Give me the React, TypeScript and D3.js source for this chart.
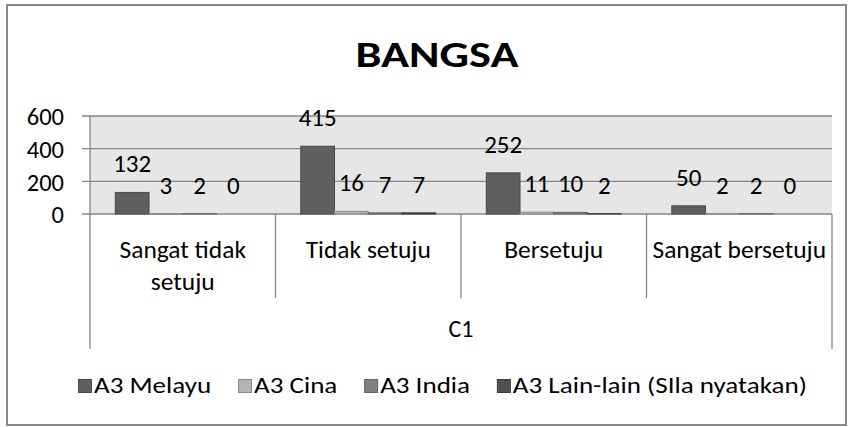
import React, { useEffect, useRef } from "react";
import * as d3 from "d3";

const title = "BANGSA";
const categories = ["Sangat tidak setuju", "Tidak setuju", "Bersetuju", "Sangat bersetuju"];
const groupLabel = "C1";
const seriesNames = ["A3 Melayu", "A3 Cina", "A3 India", "A3 Lain-lain (SIla nyatakan)"];
const melayu = [132, 415, 252, 50];
const cina = [3, 16, 11, 2];
const india = [2, 7, 10, 2];
const lainLain = [0, 7, 2, 0];
const yTicks = [0, 200, 400, 600];

const seriesValues = [melayu, cina, india, lainLain];
const fills = ["#5f5f5f", "#b3b3b3", "#808080", "#4f4f4f"];
const strokes = ["#4a4a4a", "#8a8a8a", "#666666", "#3c3c3c"];
const FONT = "Carlito, Lato, 'Open Sans', sans-serif";

export default function App() {
  const ref = useRef<SVGSVGElement>(null);
  useEffect(() => {
    const svg = d3.select(ref.current);
    svg.selectAll("*").remove();
    const W = 850, H = 427;
    const left = 90, right = 832, top = 116, bottom = 214;
    const grid = "#868686";

    svg.append("rect").attr("x", 0).attr("y", 0).attr("width", W).attr("height", H).attr("fill", "#fff");
    svg.append("rect").attr("x", 7).attr("y", 5).attr("width", 839).attr("height", 420)
      .attr("fill", "none").attr("stroke", "#8a8a8a").attr("stroke-width", 2);

    svg.append("text").attr("x", 437).attr("y", 67).attr("text-anchor", "middle")
      .attr("font-family", FONT).attr("font-weight", "bold").attr("font-size", 37)
      .attr("textLength", 163).attr("lengthAdjust", "spacingAndGlyphs").text(title);

    const y = d3.scaleLinear().domain([0, 600]).range([bottom, top]);
    const x0 = d3.scaleBand<string>().domain(categories).range([left, right]).padding(0);
    const catW = x0.bandwidth();
    const barW = catW / 5.5;
    const x1 = d3.scaleBand<number>().domain(d3.range(seriesNames.length))
      .range([0.75 * barW, 0.75 * barW + 4 * barW]).padding(0);

    svg.append("rect").attr("x", left).attr("y", top).attr("width", right - left).attr("height", bottom - top)
      .attr("fill", "#e6e6e6");

    yTicks.forEach((t) => {
      svg.append("line").attr("x1", left - 8).attr("x2", right).attr("y1", y(t)).attr("y2", y(t))
        .attr("stroke", grid).attr("stroke-width", 1.3);
      svg.append("text").attr("x", 64).attr("y", y(t)).attr("dy", "0.38em").attr("text-anchor", "end")
        .attr("font-family", FONT).attr("font-size", 24.5).attr("fill", "#000").text(String(t));
    });
    svg.append("line").attr("x1", left).attr("x2", left).attr("y1", top).attr("y2", 349)
      .attr("stroke", grid).attr("stroke-width", 1.3);
    svg.append("line").attr("x1", right).attr("x2", right).attr("y1", bottom).attr("y2", 349)
      .attr("stroke", grid).attr("stroke-width", 1.3);
    categories.slice(1).forEach((c) => {
      svg.append("line").attr("x1", x0(c)!).attr("x2", x0(c)!).attr("y1", bottom).attr("y2", 298)
        .attr("stroke", grid).attr("stroke-width", 1.3);
    });

    seriesValues.forEach((vals, si) => {
      vals.forEach((v, ci) => {
        const bx = x0(categories[ci])! + x1(si)!;
        svg.append("rect").attr("x", bx).attr("y", y(v)).attr("width", barW)
          .attr("height", Math.max(0, y(0) - y(v)))
          .attr("fill", fills[si]).attr("stroke", strokes[si]).attr("stroke-width", 1);
        svg.append("text").attr("x", bx + barW / 2).attr("y", y(v) - 20).attr("text-anchor", "middle")
          .attr("font-family", FONT).attr("font-size", 25).attr("fill", "#000").text(String(v));
      });
    });

    categories.forEach((c) => {
      const cx = x0(c)! + catW / 2;
      const t = svg.append("text").attr("x", cx).attr("y", 258).attr("text-anchor", "middle")
        .attr("font-family", FONT).attr("font-size", 25.5).attr("fill", "#000").text(c);
      const len = (t.node() as SVGTextElement).getComputedTextLength();
      if (len > catW + 10) {
        const words = c.split(" ");
        const last = words.pop()!;
        t.text(null);
        t.append("tspan").attr("x", cx).attr("y", 258).text(words.join(" "));
        t.append("tspan").attr("x", cx).attr("y", 290).text(last);
      }
    });

    svg.append("text").attr("x", (left + right) / 2).attr("y", 337).attr("text-anchor", "middle")
      .attr("font-family", FONT).attr("font-size", 24).attr("fill", "#000").text(groupLabel);

    // legend
    const lg = svg.append("g").attr("transform", "translate(0,393)");
    const legStart = 78, legEnd = 807;
    const sx = 1.23;
    const groups: any[] = [];
    const widths: number[] = [];
    seriesNames.forEach((n, i) => {
      const g = lg.append("g");
      g.append("rect").attr("x", 0.5).attr("y", -13.5).attr("width", 13).attr("height", 13)
        .attr("fill", fills[i]).attr("stroke", strokes[i]).attr("stroke-width", 1);
      const tg = g.append("g").attr("transform", `translate(16,0) scale(${sx},1)`);
      const tx = tg.append("text").attr("x", 0).attr("y", 0).attr("font-family", FONT)
        .attr("font-size", 22).attr("fill", "#000").text(n);
      widths.push(16 + sx * (tx.node() as SVGTextElement).getComputedTextLength());
      groups.push(g);
    });
    const gap = (legEnd - legStart - d3.sum(widths)) / (seriesNames.length - 1);
    let cursor = legStart;
    groups.forEach((g, i) => {
      g.attr("transform", `translate(${cursor},0)`);
      cursor += widths[i] + gap;
    });
  }, []);
  return <svg ref={ref} width={850} height={427} style={{ position: "absolute", left: 0, top: 0 }} />;
}
